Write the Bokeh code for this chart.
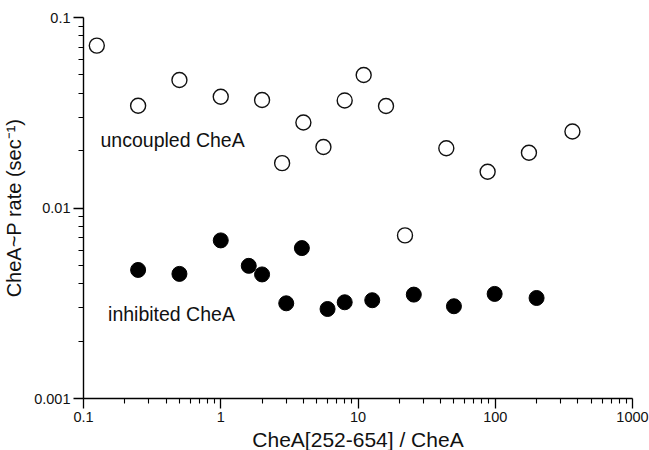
from bokeh.plotting import figure
from bokeh.models import FixedTicker, CustomJSTickFormatter, Label, Arrow, ColumnDataSource
from bokeh.embed import file_html
from bokeh.resources import INLINE

# uncoupled CheA (open circles)
unc_x = [0.125, 0.25, 0.5, 1.0, 2.0, 2.8, 4.0, 5.6, 8.0, 11.0, 16.0, 22.0, 44.0, 88.0, 176.0, 365.0]
unc_y = [0.0712, 0.0344, 0.047, 0.0384, 0.0369, 0.0172, 0.0281, 0.0209, 0.0367, 0.0499, 0.0343, 0.00718, 0.0206, 0.0155, 0.0195, 0.0252]

# inhibited CheA (filled circles)
inh_x = [0.25, 0.5, 1.0, 1.6, 2.0, 3.0, 3.9, 6.0, 8.0, 12.7, 25.5, 50.0, 99.0, 200.0]
inh_y = [0.00473, 0.00451, 0.00676, 0.00497, 0.00448, 0.00316, 0.00616, 0.00295, 0.0032, 0.00328, 0.00351, 0.00305, 0.00354, 0.00337]

x_major = [0.1, 1, 10, 100, 1000]
y_major = [0.001, 0.01, 0.1]
x_minor = [m * d for d in [0.1, 1, 10, 100] for m in range(2, 10)]
y_minor = [m * d for d in [0.001, 0.01] for m in range(2, 10)]

FONT = "Liberation Sans"
FW, FH = 549, 381
X0, X1, Y0, Y1 = 0.1, 1000, 0.001, 0.1

p = figure(frame_width=FW, frame_height=FH, x_axis_type="log", y_axis_type="log",
           x_range=(X0, X1), y_range=(Y0, Y1),
           output_backend="svg", toolbar_location=None,
           min_border_left=83, min_border_right=17, min_border_top=17, min_border_bottom=48)
p.outline_line_color = None
p.grid.visible = False

p.xaxis.ticker = FixedTicker(ticks=x_major, minor_ticks=x_minor)
p.yaxis.ticker = FixedTicker(ticks=y_major, minor_ticks=y_minor)
p.xaxis.formatter = CustomJSTickFormatter(code="return tick.toString();")
p.yaxis.formatter = CustomJSTickFormatter(code="return tick.toString();")

for ax in (p.xaxis[0], p.yaxis[0]):
    ax.axis_line_color = "black"
    ax.axis_line_width = 1.4
    ax.major_tick_line_color = "black"
    ax.minor_tick_line_color = "black"
    ax.major_tick_line_width = 1.3
    ax.minor_tick_line_width = 1.1
    ax.major_tick_in = 0
    ax.major_tick_out = 10
    ax.minor_tick_in = 0
    ax.minor_tick_out = 5
    ax.major_label_text_font = FONT
    ax.major_label_text_font_size = "14.5px"
    ax.major_label_text_color = "#111111"
    ax.axis_label_text_font = FONT
    ax.axis_label_text_font_style = "normal"
    ax.axis_label_text_color = "#111111"
    ax.major_label_standoff = 3

p.xaxis.axis_label = "CheA[252-654] / CheA"
p.yaxis.axis_label = "CheA~P rate (sec\u207b\u00b9)"
p.xaxis.axis_label_text_font_size = "21px"
p.yaxis.axis_label_text_font_size = "20px"
p.xaxis.axis_label_standoff = 3
p.yaxis.axis_label_standoff = 6

# tick marks drawn as head-less arrows, hanging outside the frame
def tick_len_y(px):
    return Y0 * 10 ** (-px * 2 / FH)

def tick_len_x(px):
    return X0 * 10 ** (-px * 4 / FW)

def add_ticks(xs0, xs1, ys0, ys1, w):
    src = ColumnDataSource(dict(x0=xs0, x1=xs1, y0=ys0, y1=ys1))
    p.add_layout(Arrow(end=None, source=src, x_start="x0", y_start="y0",
                       x_end="x1", y_end="y1", line_color="black", line_width=w))

add_ticks(x_major, x_major, [Y0] * len(x_major), [tick_len_y(10)] * len(x_major), 1.3)
add_ticks(x_minor, x_minor, [Y0] * len(x_minor), [tick_len_y(5)] * len(x_minor), 1.1)
add_ticks([X0] * len(y_major), [tick_len_x(10)] * len(y_major), y_major, y_major, 1.3)
add_ticks([X0] * len(y_minor), [tick_len_x(5)] * len(y_minor), y_minor, y_minor, 1.1)

p.scatter(unc_x, unc_y, marker="circle", size=15, fill_color="white",
          line_color="#111111", line_width=1.4)
p.scatter(inh_x, inh_y, marker="circle", size=15, fill_color="black",
          line_color="black")

p.add_layout(Label(x=0.133, y=0.0228, text="uncoupled CheA", text_font=FONT,
                   text_font_size="19.5px", text_color="#111111", text_baseline="alphabetic"))
p.add_layout(Label(x=0.151, y=0.00277, text="inhibited CheA", text_font=FONT,
                   text_font_size="19.5px", text_color="#111111", text_baseline="alphabetic"))

open("out.html", "w").write(file_html(p, INLINE))
